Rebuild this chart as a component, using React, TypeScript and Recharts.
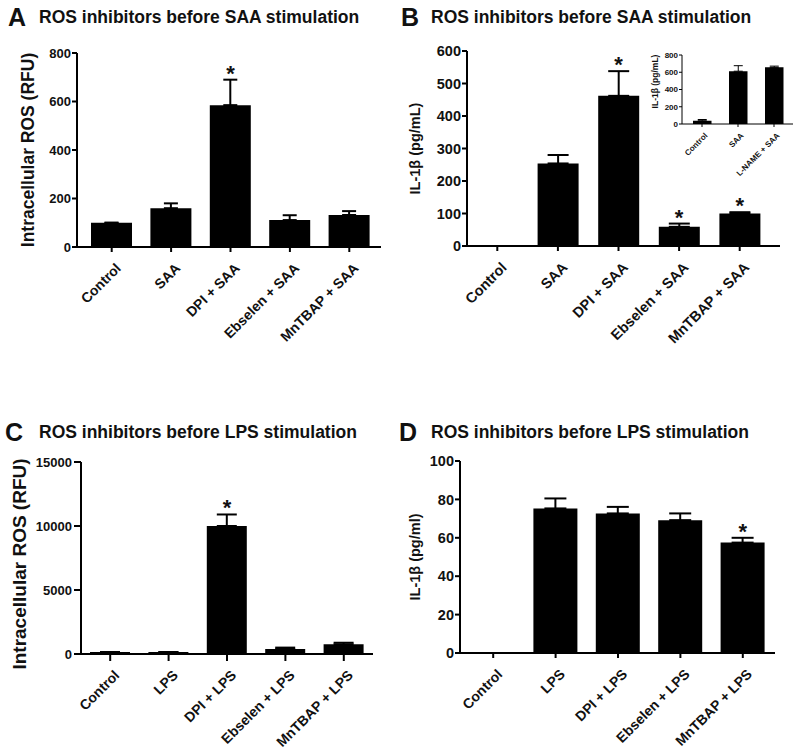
import { Bar, ComposedChart, ErrorBar, Label, Scatter, XAxis, YAxis } from 'recharts';

const FONT = '"Liberation Sans", Arial, Helvetica, sans-serif';

// panel A / B categories
const saaGroups = ['Control', 'SAA', 'DPI + SAA', 'Ebselen + SAA', 'MnTBAP + SAA'];
// panel C / D categories
const lpsGroups = ['Control', 'LPS', 'DPI + LPS', 'Ebselen + LPS', 'MnTBAP + LPS'];
const insetGroups = ['Control', 'SAA', 'L-NAME + SAA'];

const rosSaaMean = [100, 160, 585, 111, 132];
const rosSaaSem = [0, 20, 105, 20, 16];
const rosSaaStar = [false, false, true, false, false];

const il1bSaaMean = [0, 254, 462, 59, 100];
const il1bSaaSem = [0, 26, 76, 10, 4];
const il1bSaaStar = [false, false, true, true, true];

const insetMean = [38, 612, 657];
const insetSem = [14, 64, 14];
const insetStar = [false, false, false];

const rosLpsMean = [150, 150, 10000, 400, 760];
const rosLpsSem = [0, 0, 900, 100, 120];
const rosLpsStar = [false, false, true, false, false];

const il1bLpsMean = [0, 75.3, 72.7, 69.2, 57.5];
const il1bLpsSem = [0, 5.2, 3.4, 3.5, 2.5];
const il1bLpsStar = [false, false, false, false, true];

const ticksA = [0, 200, 400, 600, 800];
const ticksB = [0, 100, 200, 300, 400, 500, 600];
const ticksInset = [0, 200, 400, 600, 800];
const ticksC = [0, 5000, 10000, 15000];
const ticksD = [0, 20, 40, 60, 80, 100];

type Row = { name: string; mean: number; sem: [number, number]; star: number | null };

function buildRows(names: string[], mean: number[], sem: number[], star: boolean[]): Row[] {
  return names.map((name, i) => ({
    name,
    mean: mean[i],
    sem: [0, sem[i]],
    star: star[i] ? mean[i] + sem[i] : null,
  }));
}

function AngledTick({ x, y, payload, fontSize, shiftX = 3, shiftY = 10 }: any) {
  return (
    <g transform={`translate(${x + shiftX},${y + shiftY}) rotate(-45)`}>
      <text x={0} y={0} dy="0.72em" textAnchor="end" fontFamily={FONT} fontWeight="bold" fontSize={fontSize} fill="#111">
        {payload.value}
      </text>
    </g>
  );
}

function StarShape({ cx, cy, payload, fontSize }: any) {
  if (!payload || payload.star == null || !Number.isFinite(cy)) return <g />;
  return (
    <text x={cx} y={cy + 1} textAnchor="middle" fontFamily={FONT} fontWeight="bold" fontSize={fontSize} fill="#111">*</text>
  );
}

type PanelProps = {
  rows: Row[];
  left: number;
  top: number;
  width: number;
  height: number;
  plotTop: number;
  plotRight: number;
  yWidth: number;
  xHeight: number;
  domain: [number, number];
  ticks: number[];
  barSize: number;
  cap: number;
  tickFont: number;
  xFont: number;
  yLabel: string;
  yLabelX: number;
  yLabelShift?: number;
  yLabelFont: number;
  pad: { left: number; right: number };
  line?: number;
  tickLen?: number;
  tickGap?: number;
  starFont?: number;
  labelShift?: [number, number];
};

function Panel(p: PanelProps) {
  const line = p.line ?? 2;
  const tickLen = p.tickLen ?? 5;
  const plotHeight = p.height - p.plotTop - p.xHeight;
  const [sx, sy] = p.labelShift ?? [3, 10];
  return (
    <div style={{ position: 'absolute', left: p.left, top: p.top }}>
      <ComposedChart width={p.width} height={p.height} data={p.rows}
        margin={{ top: p.plotTop, right: p.width - p.plotRight, bottom: 0, left: 0 }}>
        <XAxis dataKey="name" type="category" interval={0} height={p.xHeight} padding={p.pad}
          axisLine={{ stroke: '#000', strokeWidth: line }} tickLine={{ stroke: '#000', strokeWidth: line }}
          tickSize={tickLen} tickMargin={0} tick={<AngledTick fontSize={p.xFont} shiftX={sx} shiftY={sy} />} />
        <YAxis type="number" domain={p.domain} ticks={p.ticks} interval={0} width={p.yWidth} allowDataOverflow
          axisLine={{ stroke: '#000', strokeWidth: line }} tickLine={{ stroke: '#000', strokeWidth: line }}
          tickSize={tickLen} tickMargin={p.tickGap ?? 1}
          tick={{ fontFamily: FONT, fontWeight: 'bold', fontSize: p.tickFont, fill: '#111' }}>
          <Label content={() => (
            <text transform={`translate(${p.yLabelX},${p.plotTop + plotHeight / 2 + (p.yLabelShift ?? 0)}) rotate(-90)`}
              textAnchor="middle" dominantBaseline="central" fontFamily={FONT} fontWeight="bold"
              fontSize={p.yLabelFont} fill="#111">{p.yLabel}</text>
          )} />
        </YAxis>
        <Bar dataKey="mean" fill="#000" barSize={p.barSize} isAnimationActive={false}>
          <ErrorBar dataKey="sem" width={p.cap} stroke="#000" strokeWidth={line} direction="y" />
        </Bar>
        <Scatter dataKey="star" isAnimationActive={false} shape={<StarShape fontSize={p.starFont ?? 22} />} />
      </ComposedChart>
    </div>
  );
}

const titles = [
  { letter: 'A', lx: 8, ly: 26, tx: 39, ty: 23, text: 'ROS inhibitors before SAA stimulation' },
  { letter: 'B', lx: 401, ly: 26, tx: 431, ty: 23, text: 'ROS inhibitors before SAA stimulation' },
  { letter: 'C', lx: 5, ly: 441, tx: 39, ty: 438, text: 'ROS inhibitors before LPS stimulation' },
  { letter: 'D', lx: 399, ly: 441, tx: 431, ty: 438, text: 'ROS inhibitors before LPS stimulation' },
];

export default function App() {
  return (
    <div style={{ position: 'absolute', left: 0, top: 0, width: 800, height: 755, background: '#fff', overflow: 'hidden' }}>
      <svg width={800} height={755} style={{ position: 'absolute', left: 0, top: 0 }}>
        {titles.map(t => (
          <g key={t.letter}>
            <text x={t.lx} y={t.ly} fontFamily={FONT} fontWeight="bold" fontSize={25} fill="#111">{t.letter}</text>
            <text x={t.tx} y={t.ty} fontFamily={FONT} fontWeight="bold" fontSize={17.5} fill="#111">{t.text}</text>
          </g>
        ))}
      </svg>

      <Panel rows={buildRows(saaGroups, rosSaaMean, rosSaaSem, rosSaaStar)}
        left={0} top={0} width={400} height={360} plotTop={53} plotRight={381} yWidth={77} xHeight={113}
        domain={[0, 800]} ticks={ticksA} barSize={41} cap={7} tickFont={13} xFont={14}
        yLabel="Intracellular ROS (RFU)" yLabelX={28} yLabelFont={17.5} pad={{ left: 5, right: 2 }} />

      <Panel rows={buildRows(saaGroups, il1bSaaMean, il1bSaaSem, il1bSaaStar)}
        left={400} top={0} width={400} height={360} plotTop={51} plotRight={380} yWidth={67} xHeight={114}
        domain={[0, 600]} ticks={ticksB} barSize={41} cap={10.5} tickFont={14.5} xFont={14.5}
        yLabel="IL-1β (pg/mL)" yLabelX={15} yLabelFont={14.5} pad={{ left: 0, right: 10 }} />

      <Panel rows={buildRows(insetGroups, insetMean, insetSem, insetStar)}
        left={620} top={40} width={180} height={150} plotTop={15} plotRight={173} yWidth={62} xHeight={66}
        domain={[0, 800]} ticks={ticksInset} barSize={18.5} cap={4.5} tickFont={8} xFont={8}
        yLabel="IL-1β (pg/mL)" yLabelX={35} yLabelShift={-8} yLabelFont={8.5} pad={{ left: 2, right: 1 }}
        line={1} tickLen={3} labelShift={[2, 5]} />

      <Panel rows={buildRows(lpsGroups, rosLpsMean, rosLpsSem, rosLpsStar)}
        left={0} top={390} width={400} height={365} plotTop={72} plotRight={373} yWidth={81} xHeight={101}
        domain={[0, 15000]} ticks={ticksC} barSize={40} cap={10} tickFont={13} xFont={14}
        tickLen={7} tickGap={2} labelShift={[3, 8]}
        yLabel="Intracellular ROS (RFU)" yLabelX={19} yLabelShift={6} yLabelFont={19} pad={{ left: 0, right: 0 }} />

      <Panel rows={buildRows(lpsGroups, il1bLpsMean, il1bLpsSem, il1bLpsStar)}
        left={400} top={390} width={400} height={365} plotTop={71} plotRight={375} yWidth={60} xHeight={102}
        domain={[0, 100]} ticks={ticksD} barSize={44} cap={11} tickFont={14.5} xFont={14}
        yLabel="IL-1β (pg/ml)" yLabelX={15} yLabelFont={14.5} pad={{ left: 2, right: 1 }} />
    </div>
  );
}
